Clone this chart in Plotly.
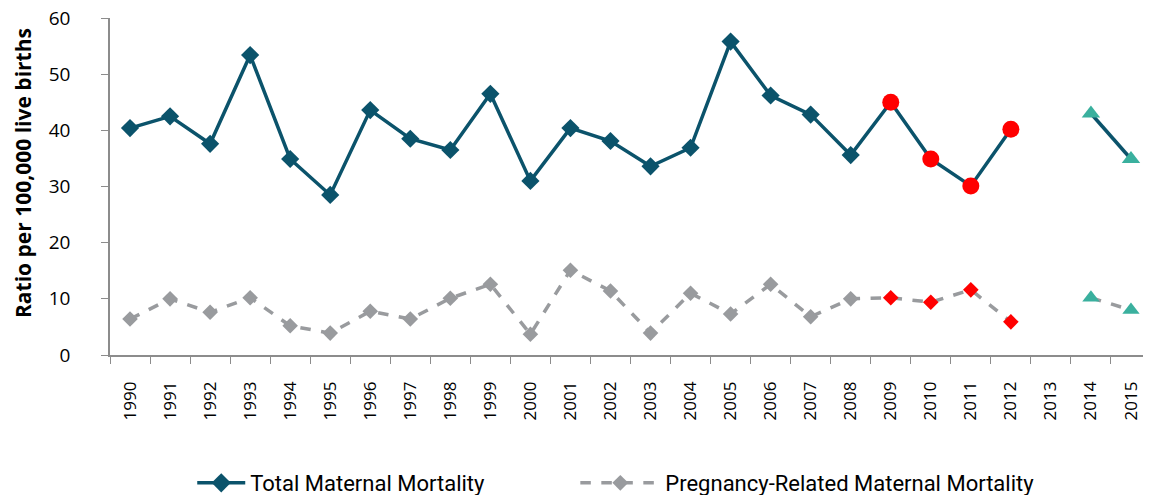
import plotly.graph_objects as go

years = [str(y) for y in range(1990, 2016)]
total = [40.4, 42.5, 37.6, 53.4, 34.9, 28.5, 43.6, 38.5, 36.5, 46.5, 31.0, 40.4, 38.1, 33.6, 36.9,
         55.8, 46.2, 42.8, 35.6, 45.0, 34.9, 30.1, 40.2, None, 43.0, 34.9]
preg = [6.4, 10.0, 7.6, 10.2, 5.2, 3.9, 7.8, 6.4, 10.1, 12.6, 3.7, 15.1, 11.4, 3.9, 11.0,
        7.3, 12.6, 6.8, 10.0, 10.2, 9.4, 11.6, 5.9, None, 10.2, 8.0]
# marker group per year: 0 = standard, 1 = red, 2 = teal
group = [0] * 19 + [1] * 4 + [1] + [2] * 2
y_title = "Ratio per 100,000 live births"

NAVY = "#0b536b"
GRAY = "#999b9e"
RED = "#ff0000"
TEAL = "#3ab09e"

tot_sym = [{0: "diamond", 1: "circle", 2: "triangle-up"}[g] for g in group]
tot_col = [{0: NAVY, 1: RED, 2: TEAL}[g] for g in group]
tot_size = [{0: 14, 1: 17, 2: 16}[g] for g in group]
preg_sym = [{0: "diamond", 1: "diamond", 2: "triangle-up"}[g] for g in group]
preg_col = [{0: GRAY, 1: RED, 2: TEAL}[g] for g in group]
preg_size = [{0: 12, 1: 12, 2: 15}[g] for g in group]

fig = go.Figure()
fig.add_trace(go.Scatter(x=years, y=total, mode="lines+markers", name="Total Maternal Mortality",
                         legend="legend", showlegend=True,
                         line=dict(color=NAVY, width=3.5),
                         marker=dict(symbol=tot_sym, color=tot_col, size=tot_size, opacity=1,
                                     line=dict(width=0))))
fig.add_trace(go.Scatter(x=years, y=preg, mode="lines+markers", name="Pregnancy-Related Maternal Mortality",
                         legend="legend2", showlegend=True,
                         line=dict(color=GRAY, width=3.5, dash="dash"),
                         marker=dict(symbol=preg_sym, color=preg_col, size=preg_size, opacity=1,
                                     line=dict(width=0))))

leg_font = dict(family="Roboto", size=22, color="#000000")
fig.update_layout(
    width=1143, height=500,
    margin=dict(l=102, r=0, t=10, b=153),
    plot_bgcolor="white", paper_bgcolor="white",
    font=dict(family="Open Sans", color="#000000"),
    showlegend=True,
    legend=dict(orientation="h", x=0.079, xanchor="left", y=-0.38, yanchor="middle",
                font=leg_font, itemwidth=48, bgcolor="rgba(0,0,0,0)"),
    legend2=dict(orientation="h", x=0.447, xanchor="left", y=-0.38, yanchor="middle",
                 font=leg_font, itemwidth=80, bgcolor="rgba(0,0,0,0)"),
    annotations=[dict(text="<b>" + y_title + "</b>", textangle=-90, xref="paper", yref="paper",
                      x=-0.0836, y=0.54, xanchor="center", yanchor="middle", showarrow=False,
                      font=dict(family="Open Sans", size=21, color="#000000"))],
)
fig.update_xaxes(type="category", categoryorder="array", categoryarray=years,
                 range=[-0.5, len(years) - 0.5], automargin=False,
                 showline=True, linecolor="#8c8c8c", linewidth=1.5,
                 ticks="outside", tickson="boundaries", ticklen=7, tickcolor="#8c8c8c",
                 tickangle=-90, tickfont=dict(size=17), ticklabelstandoff=18, showgrid=False)
fig.update_yaxes(range=[0, 60], dtick=10, automargin=False, ticklabeloverflow="allow",
                 showline=True, linecolor="#8c8c8c", linewidth=1.5,
                 ticks="outside", ticklen=7, tickcolor="#8c8c8c", showgrid=False, zeroline=False,
                 tickfont=dict(size=19), ticklabelstandoff=27)

fig.write_html("out.html")
